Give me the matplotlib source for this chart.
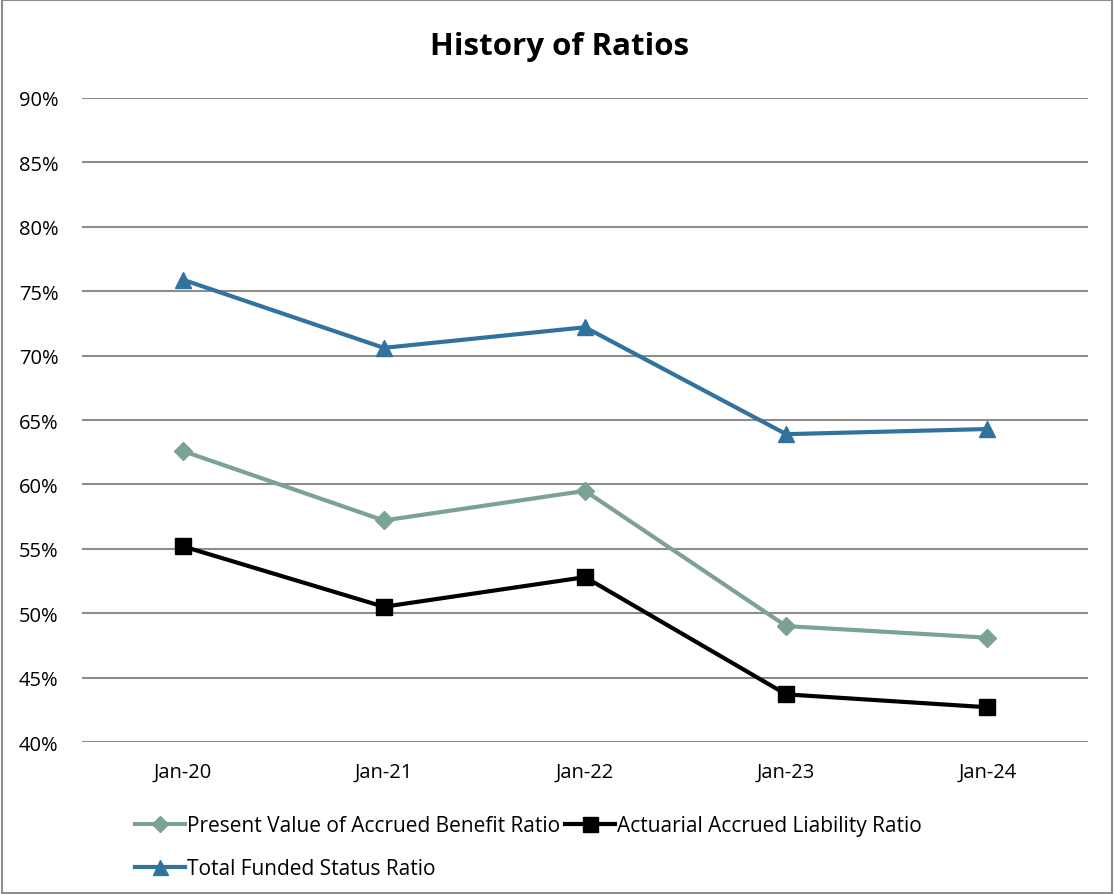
import matplotlib
matplotlib.use("Agg")
import matplotlib.pyplot as plt
from matplotlib.patches import Rectangle

years = ["Jan-20", "Jan-21", "Jan-22", "Jan-23", "Jan-24"]
pv_benefit = [62.6, 57.2, 59.5, 49.0, 48.1]
accrued_liability = [55.2, 50.5, 52.8, 43.7, 42.7]
total_funded = [75.9, 70.6, 72.2, 63.9, 64.3]
y_ticks = [40, 45, 50, 55, 60, 65, 70, 75, 80, 85, 90]

plt.rcParams["font.family"] = ["Open Sans", "DejaVu Sans"]

fig = plt.figure(figsize=(11.14, 8.95), dpi=100)
ax = fig.add_axes([0.0736, 0.1698, 0.9031, 0.7196])

x = range(len(years))
h1, = ax.plot(x, pv_benefit, color="#7ba393", lw=3, marker="D", ms=9,
              label="Present Value of Accrued Benefit Ratio", zorder=3)
h2, = ax.plot(x, accrued_liability, color="#000000", lw=3, marker="s", ms=12,
              label="Actuarial Accrued Liability Ratio", zorder=3)
h3, = ax.plot(x, total_funded, color="#31729e", lw=3, marker="^", ms=12,
              label="Total Funded Status Ratio", zorder=3)

ax.set_xlim(-0.5, len(years) - 0.5)
ax.set_ylim(40, 90)
ax.set_xticks(list(x))
ax.set_xticklabels(years, fontsize=14.5)
ax.set_yticks(y_ticks)
ax.set_yticklabels([f"{v}%" for v in y_ticks], fontsize=14.5)
ax.tick_params(length=0)
ax.tick_params(axis="y", pad=17)
ax.tick_params(axis="x", pad=14)
ax.grid(axis="y", color="#8c8c8c", lw=1.5)
ax.set_axisbelow(True)
for s in ax.spines.values():
    s.set_visible(False)

fig.text(0.502, 1 - 47 / 895, "History of Ratios", fontsize=22.5, fontweight="bold",
         ha="center", va="center")

fig.legend([h1, h3, h2], [h1.get_label(), h3.get_label(), h2.get_label()],
           ncol=2, loc="upper left", bbox_to_anchor=(0.112, 0.1),
           frameon=False, fontsize=15, handlelength=2.4, handletextpad=0.1,
           columnspacing=0.2, labelspacing=1.05, borderpad=0, markerscale=0.9)

fig.patches.append(Rectangle((0.002, 0.001), 0.996, 0.998, transform=fig.transFigure,
                             fill=False, edgecolor="#8c8c8c", lw=1.5))

fig.savefig("out.png", dpi=100)
